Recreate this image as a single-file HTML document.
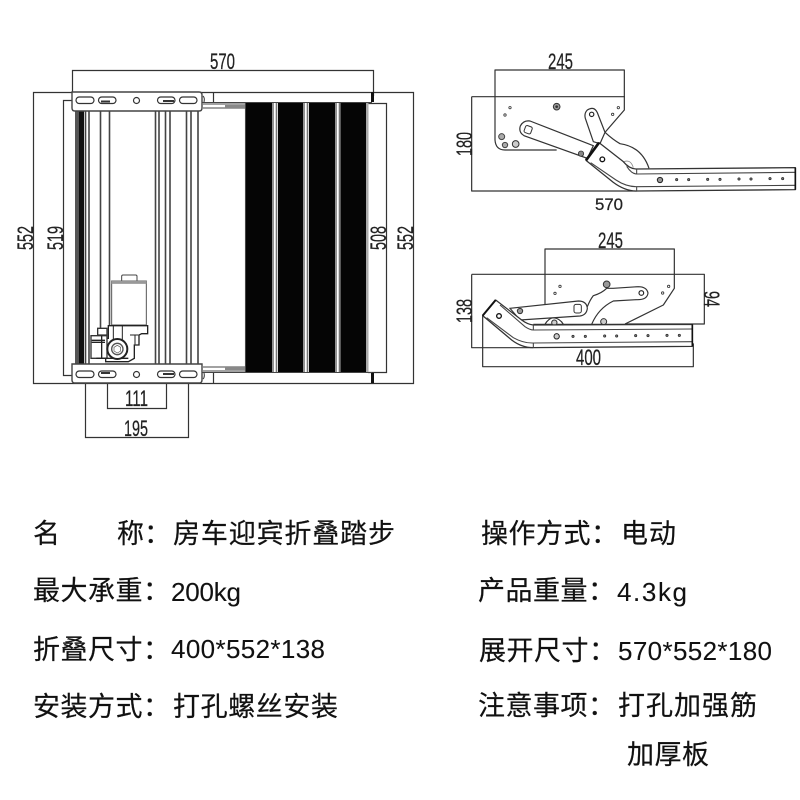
<!DOCTYPE html>
<html><head><meta charset="utf-8"><style>
html,body{margin:0;padding:0;background:#fff;width:800px;height:800px;overflow:hidden}
svg{display:block}
.d{font-family:"Liberation Sans",sans-serif;font-size:22px;fill:#222;stroke:#222;stroke-width:.25}
.c{font-family:"Liberation Sans","Noto Sans CJK SC",sans-serif;font-size:27px;fill:#111;stroke:#111;stroke-width:.2}
.l{font-family:"Liberation Sans",sans-serif;font-size:26px;fill:#111;stroke:#111;stroke-width:.1}
.g{stroke:#333;fill:none;stroke-width:1.2}
.m{stroke:#333;fill:none;stroke-width:3.6;stroke-linejoin:round}
</style></head><body>
<svg width="800" height="800" viewBox="0 0 800 800" xmlns="http://www.w3.org/2000/svg">
<rect width="800" height="800" fill="#fff"/>

<!-- LEFT TOP VIEW: dimensions -->
<g class="g">
<path d="M72.500 92V70.500H373.500V96"/>
<path d="M33.500 92.500H413.500V383.500H33.500Z"/>
<path d="M76 100.500H63.500V375.500H76"/>
<path d="M85.500 375V437.500H188.500V375"/>
<path d="M107.500 375V408.500H166.500V375"/>
<path d="M368 103.500H386.500V372.500H368"/>
<path d="M213.500 92V103M213.500 372V383"/>
</g>

<!-- rails -->
<rect x="75" y="111" width="9" height="253" fill="#555"/>
<rect x="79" y="111" width="5" height="253" fill="#111"/>
<g stroke="#444" stroke-width="1.6" fill="none">
<path d="M85.500 111V364M89 111V364"/>
<path d="M100.500 111V328M109.500 111V328"/>
<path d="M155.500 111V364M159 111V364M165.500 111V364M170 111V364"/>
<path d="M186.500 111V364M191 111V364M198 111V364"/>
</g>

<!-- brackets -->
<g fill="#fff" stroke="#444" stroke-width="1.4">
<path d="M75 92H199Q202 92 202 95V108Q202 111 199 111H75Q72 111 72 108V92Z"/>
<path d="M72 364H202V380Q202 383 199 383H75Q72 383 72 380Z"/>
</g>
<g fill="#fff" stroke="#333" stroke-width="1.2">
<rect x="76" y="97" width="18" height="6.500" rx="3.200"/>
<rect x="98.500" y="97" width="17.500" height="6.500" rx="3.200"/>
<circle cx="136.500" cy="100.500" r="3"/>
<rect x="157.500" y="97" width="17.500" height="6.500" rx="3.200"/>
<rect x="179.500" y="97" width="17.500" height="6.500" rx="3.200"/>
<rect x="76" y="371" width="18" height="6.500" rx="3.200"/>
<rect x="98.500" y="371" width="17.500" height="6.500" rx="3.200"/>
<circle cx="136.500" cy="374.500" r="3"/>
<rect x="157.500" y="371" width="17.500" height="6.500" rx="3.200"/>
<rect x="179.500" y="371" width="17.500" height="6.500" rx="3.200"/>
</g>
<path d="M101 100.500h9v2h-9zM101 372h9v2h-9zM163 100h11v2h-11zM163 373h11v2h-11z" fill="#333"/>

<!-- connector rails between bracket and step -->
<g stroke="#444" stroke-width="1.1" fill="none">
<path d="M202 102.500H372M203 104H245M203 108H245M203 367H245M203 371H245M202 372.500H372"/>
<path d="M245.500 103V372"/>
<path d="M203 96Q205 98 204 102M203 379Q205 377 204 373"/>
</g>
<path d="M225 105h20v3h-20zM225 367h20v3h-20z" fill="#888"/>

<!-- black step -->
<rect x="246" y="103" width="120" height="269" fill="#050505"/>
<rect x="272" y="103" width="6" height="269" fill="#fff"/>
<rect x="303" y="103" width="6" height="269" fill="#fff"/>
<rect x="335" y="103" width="5.500" height="269" fill="#fff"/>
<g stroke="#777" stroke-width="1.6"><path d="M273 103V372M276.500 103V372M304 103V372M307.500 103V372M336 103V372M339.500 103V372"/></g>
<rect x="366" y="103" width="2.500" height="269" fill="#aaa"/>
<rect x="371" y="92" width="3" height="10" fill="#111"/>
<rect x="371" y="373" width="3" height="10" fill="#111"/>

<!-- motor -->
<g transform="translate(85 265) scale(.3333)">
<path d="M110 48V34Q110 30 114 30H152Q156 30 156 34V48" fill="#fff" stroke="#444" stroke-width="3"/>
<rect x="80" y="48" width="104" height="132" fill="#fff" stroke="#555" stroke-width="3"/>
<path d="M80 52H184" stroke="#999" stroke-width="9"/>
<path d="M70 182H188V206H170L162 210V240H148V280L130 290H62V220H70Z" fill="#fff" stroke="#222" stroke-width="4"/>
<path d="M85 182V225M112 182V225M135 210H160M150 210V238" stroke="#222" stroke-width="3" fill="none"/>
<path d="M38 190H66V210H38ZM18 212H66V280H18Z" fill="#fff" stroke="#333" stroke-width="4"/>
<path d="M20 226H60M20 232H60M50 212V280M34 280H130" stroke="#222" stroke-width="4" fill="none"/>
<circle cx="97" cy="252" r="30" fill="#fff" stroke="#222" stroke-width="6"/>
<circle cx="97" cy="252" r="17" fill="#fff" stroke="#555" stroke-width="4"/>
<path d="M97 241l10 6v11l-10 6-10-6v-11z" fill="#fff" stroke="#555" stroke-width="2"/>
</g>

<!-- RIGHT TOP VIEW -->
<g transform="translate(450 45) scale(.33333)">
<g class="m">
<path d="M135 155V75H523V155"/>
<path d="M65 155H525M65 155V438H560"/>
<path d="M135 155V285Q137 315 165 315H320"/>
<path d="M523 155V195L465 262Q490 285 510 296Q575 305 597 370"/>
</g>
<!-- lever -->
<path d="M240 228L430 302L412 340L222 272Q205 262 211 243Q220 225 240 228Z" fill="#fff" stroke="#333" stroke-width="3.600"/>
<path d="M412 195Q432 182 442 203L465 262L450 296L430 290L406 220Q402 205 412 195Z" fill="#fff" stroke="#333" stroke-width="3.600"/>
<rect x="224" y="243" width="21" height="22" rx="5" fill="#fff" stroke="#333" stroke-width="3" transform="rotate(20 234 254)"/>
<circle cx="425" cy="208" r="6.500" fill="#fff" stroke="#222" stroke-width="3.500"/>
<circle cx="393" cy="326" r="8" fill="#888" stroke="#333" stroke-width="2.500"/>
<path d="M522 350Q542 342 550 368" fill="none" stroke="#888" stroke-width="2.500"/>
<!-- tube -->
<path d="M447 293L408 346L490 412Q525 438 560 438L1036 434V368L560 372Q538 372 520 350Z" fill="#fff" stroke="#333" stroke-width="3.800" stroke-linejoin="round"/>
<path d="M422 353L498 405Q528 425 560 425L1036 421M530 364Q545 387 560 387L1036 382M560 372V387M560 425V438" fill="none" stroke="#444" stroke-width="3.200"/>
<path d="M447 293L408 346" stroke="#111" stroke-width="8"/>
<path d="M1036 368V434" stroke="#111" stroke-width="5"/>
<circle cx="457" cy="343" r="7" fill="#fff" stroke="#111" stroke-width="4"/>
<circle cx="320" cy="185" r="10" fill="#999" stroke="#333" stroke-width="3"/>
<circle cx="320" cy="185" r="4" fill="#333"/>
<circle cx="180" cy="188" r="3.500" fill="#fff" stroke="#333" stroke-width="2.500"/>
<circle cx="165" cy="210" r="3.500" fill="#fff" stroke="#333" stroke-width="2.500"/>
<circle cx="505" cy="188" r="3.500" fill="#fff" stroke="#333" stroke-width="2.500"/>
<circle cx="488" cy="208" r="3.500" fill="#fff" stroke="#333" stroke-width="2.500"/>
<circle cx="155" cy="275" r="9" fill="#aaa" stroke="#444" stroke-width="3"/>
<circle cx="165" cy="300" r="8" fill="#aaa" stroke="#444" stroke-width="3"/>
<circle cx="197" cy="297" r="10" fill="#ccc" stroke="#333" stroke-width="3"/>
<circle cx="630" cy="405" r="8" fill="#999" stroke="#222" stroke-width="3"/>
<g fill="#777" stroke="#222" stroke-width="2">
<circle cx="680" cy="404" r="3.500"/><circle cx="716" cy="404" r="3.500"/><circle cx="773" cy="403" r="3.500"/><circle cx="810" cy="403" r="3.500"/><circle cx="867" cy="402" r="3.500"/><circle cx="903" cy="402" r="3.500"/><circle cx="960" cy="401" r="3.500"/><circle cx="998" cy="401" r="3.500"/>
</g>
</g>

<!-- RIGHT BOTTOM VIEW -->
<g transform="translate(450 225) scale(.33333)">
<g class="m">
<path d="M285 148V72H673V148"/>
<path d="M65 148H763V297H525M65 148V368H250"/>
<path d="M98 270V425H730V355"/>
<path d="M285 148V245"/>
<path d="M673 148V190L640 240L525 297"/>
<path d="M250 298H728"/>
<path d="M285 298Q295 280 310 278Q330 280 340 298"/>
</g>
<!-- big link -->
<path d="M425 298Q445 250 490 228L560 224Q592 225 594 204Q590 185 565 185L490 190L470 190Q455 205 430 212Q420 225 412 245" fill="#fff" stroke="#333" stroke-width="3.500"/>
<!-- lever -->
<path d="M180 250L385 228Q410 228 412 250Q410 270 390 273L210 285Z" fill="#fff" stroke="#333" stroke-width="3.500"/>
<rect x="372" y="238" width="22" height="26" rx="6" fill="#fff" stroke="#333" stroke-width="3"/>
<circle cx="574" cy="204" r="7" fill="#fff" stroke="#222" stroke-width="3.500"/>
<circle cx="210" cy="258" r="8" fill="#999" stroke="#333" stroke-width="3"/>
<circle cx="470" cy="178" r="10" fill="#999" stroke="#333" stroke-width="3"/>
<circle cx="313" cy="293" r="8" fill="#ccc" stroke="#333" stroke-width="3"/>
<circle cx="461" cy="290" r="9" fill="#ccc" stroke="#333" stroke-width="3"/>
<circle cx="330" cy="184" r="3.500" fill="#fff" stroke="#333" stroke-width="2.500"/>
<circle cx="315" cy="205" r="3.500" fill="#fff" stroke="#333" stroke-width="2.500"/>
<circle cx="656" cy="184" r="3.500" fill="#fff" stroke="#333" stroke-width="2.500"/>
<circle cx="638" cy="204" r="3.500" fill="#fff" stroke="#333" stroke-width="2.500"/>
<!-- tube -->
<path d="M137 225L98 272L185 345Q215 368 250 368L727 364V298L250 300Q232 298 215 285Z" fill="#fff" stroke="#333" stroke-width="3.800" stroke-linejoin="round"/>
<path d="M110 278L190 338Q220 355 250 354L727 350M150 240L225 305Q240 315 250 315L727 312M250 300V315M250 354V368" fill="none" stroke="#444" stroke-width="3.200"/>
<path d="M137 225L98 272" stroke="#111" stroke-width="6"/>
<path d="M727 298V364" stroke="#111" stroke-width="5"/>
<circle cx="147" cy="273" r="7" fill="#fff" stroke="#111" stroke-width="4"/>
<circle cx="320" cy="334" r="8" fill="#ccc" stroke="#222" stroke-width="3"/>
<g fill="#777" stroke="#222" stroke-width="2">
<circle cx="369" cy="334" r="3.500"/><circle cx="406" cy="334" r="3.500"/><circle cx="464" cy="333" r="3.500"/><circle cx="500" cy="333" r="3.500"/><circle cx="557" cy="332" r="3.500"/><circle cx="594" cy="332" r="3.500"/><circle cx="651" cy="331" r="3.500"/><circle cx="688" cy="331" r="3.500"/>
</g>
</g>

<!-- dimension labels -->
<g class="d">
<text x="210" y="69" textLength="25" lengthAdjust="spacingAndGlyphs">570</text>
<text x="125" y="406" textLength="23" lengthAdjust="spacingAndGlyphs">111</text>
<text x="124" y="436" textLength="24" lengthAdjust="spacingAndGlyphs">195</text>
<text x="548" y="69" textLength="25" lengthAdjust="spacingAndGlyphs">245</text>
<text x="595" y="210" textLength="28" lengthAdjust="spacingAndGlyphs" style="font-size:17px">570</text>
<text x="598" y="248" textLength="25" lengthAdjust="spacingAndGlyphs">245</text>
<text x="576" y="365" textLength="25" lengthAdjust="spacingAndGlyphs">400</text>
<text transform="translate(33 250) rotate(-90)" textLength="24" lengthAdjust="spacingAndGlyphs">552</text>
<text transform="translate(63 250) rotate(-90)" textLength="24" lengthAdjust="spacingAndGlyphs">519</text>
<text transform="translate(386 250) rotate(-90)" textLength="24" lengthAdjust="spacingAndGlyphs">508</text>
<text transform="translate(413 250) rotate(-90)" textLength="24" lengthAdjust="spacingAndGlyphs">552</text>
<text transform="translate(472 156) rotate(-90)" textLength="24" lengthAdjust="spacingAndGlyphs">180</text>
<text transform="translate(472 323) rotate(-90)" textLength="24" lengthAdjust="spacingAndGlyphs">138</text>
<text transform="translate(704 291) rotate(90)" textLength="16" lengthAdjust="spacingAndGlyphs">94</text>
</g>

<!-- spec text -->
<g class="c">
<text x="33" y="543">名</text><text x="117" y="543">称：</text>
<text x="173" y="543" textLength="222">房车迎宾折叠踏步</text>
<text x="33" y="600" textLength="137">最大承重：</text>
<text x="33" y="659" textLength="137">折叠尺寸：</text>
<text x="33" y="716" textLength="137">安装方式：</text>
<text x="173" y="716" textLength="165">打孔螺丝安装</text>
<text x="481" y="543" textLength="137">操作方式：</text>
<text x="621" y="543" textLength="55">电动</text>
<text x="478" y="600" textLength="137">产品重量：</text>
<text x="479" y="660" textLength="137">展开尺寸：</text>
<text x="478" y="715" textLength="137">注意事项：</text>
<text x="618" y="715" textLength="139">打孔加强筋</text>
<text x="627" y="764" textLength="82">加厚板</text>
</g>
<g class="l">
<text x="171" y="601" textLength="70">200kg</text>
<text x="171" y="658" textLength="154">400*552*138</text>
<text x="617" y="601" textLength="70">4.3kg</text>
<text x="618" y="660" textLength="154">570*552*180</text>
</g>
</svg>
</body></html>
